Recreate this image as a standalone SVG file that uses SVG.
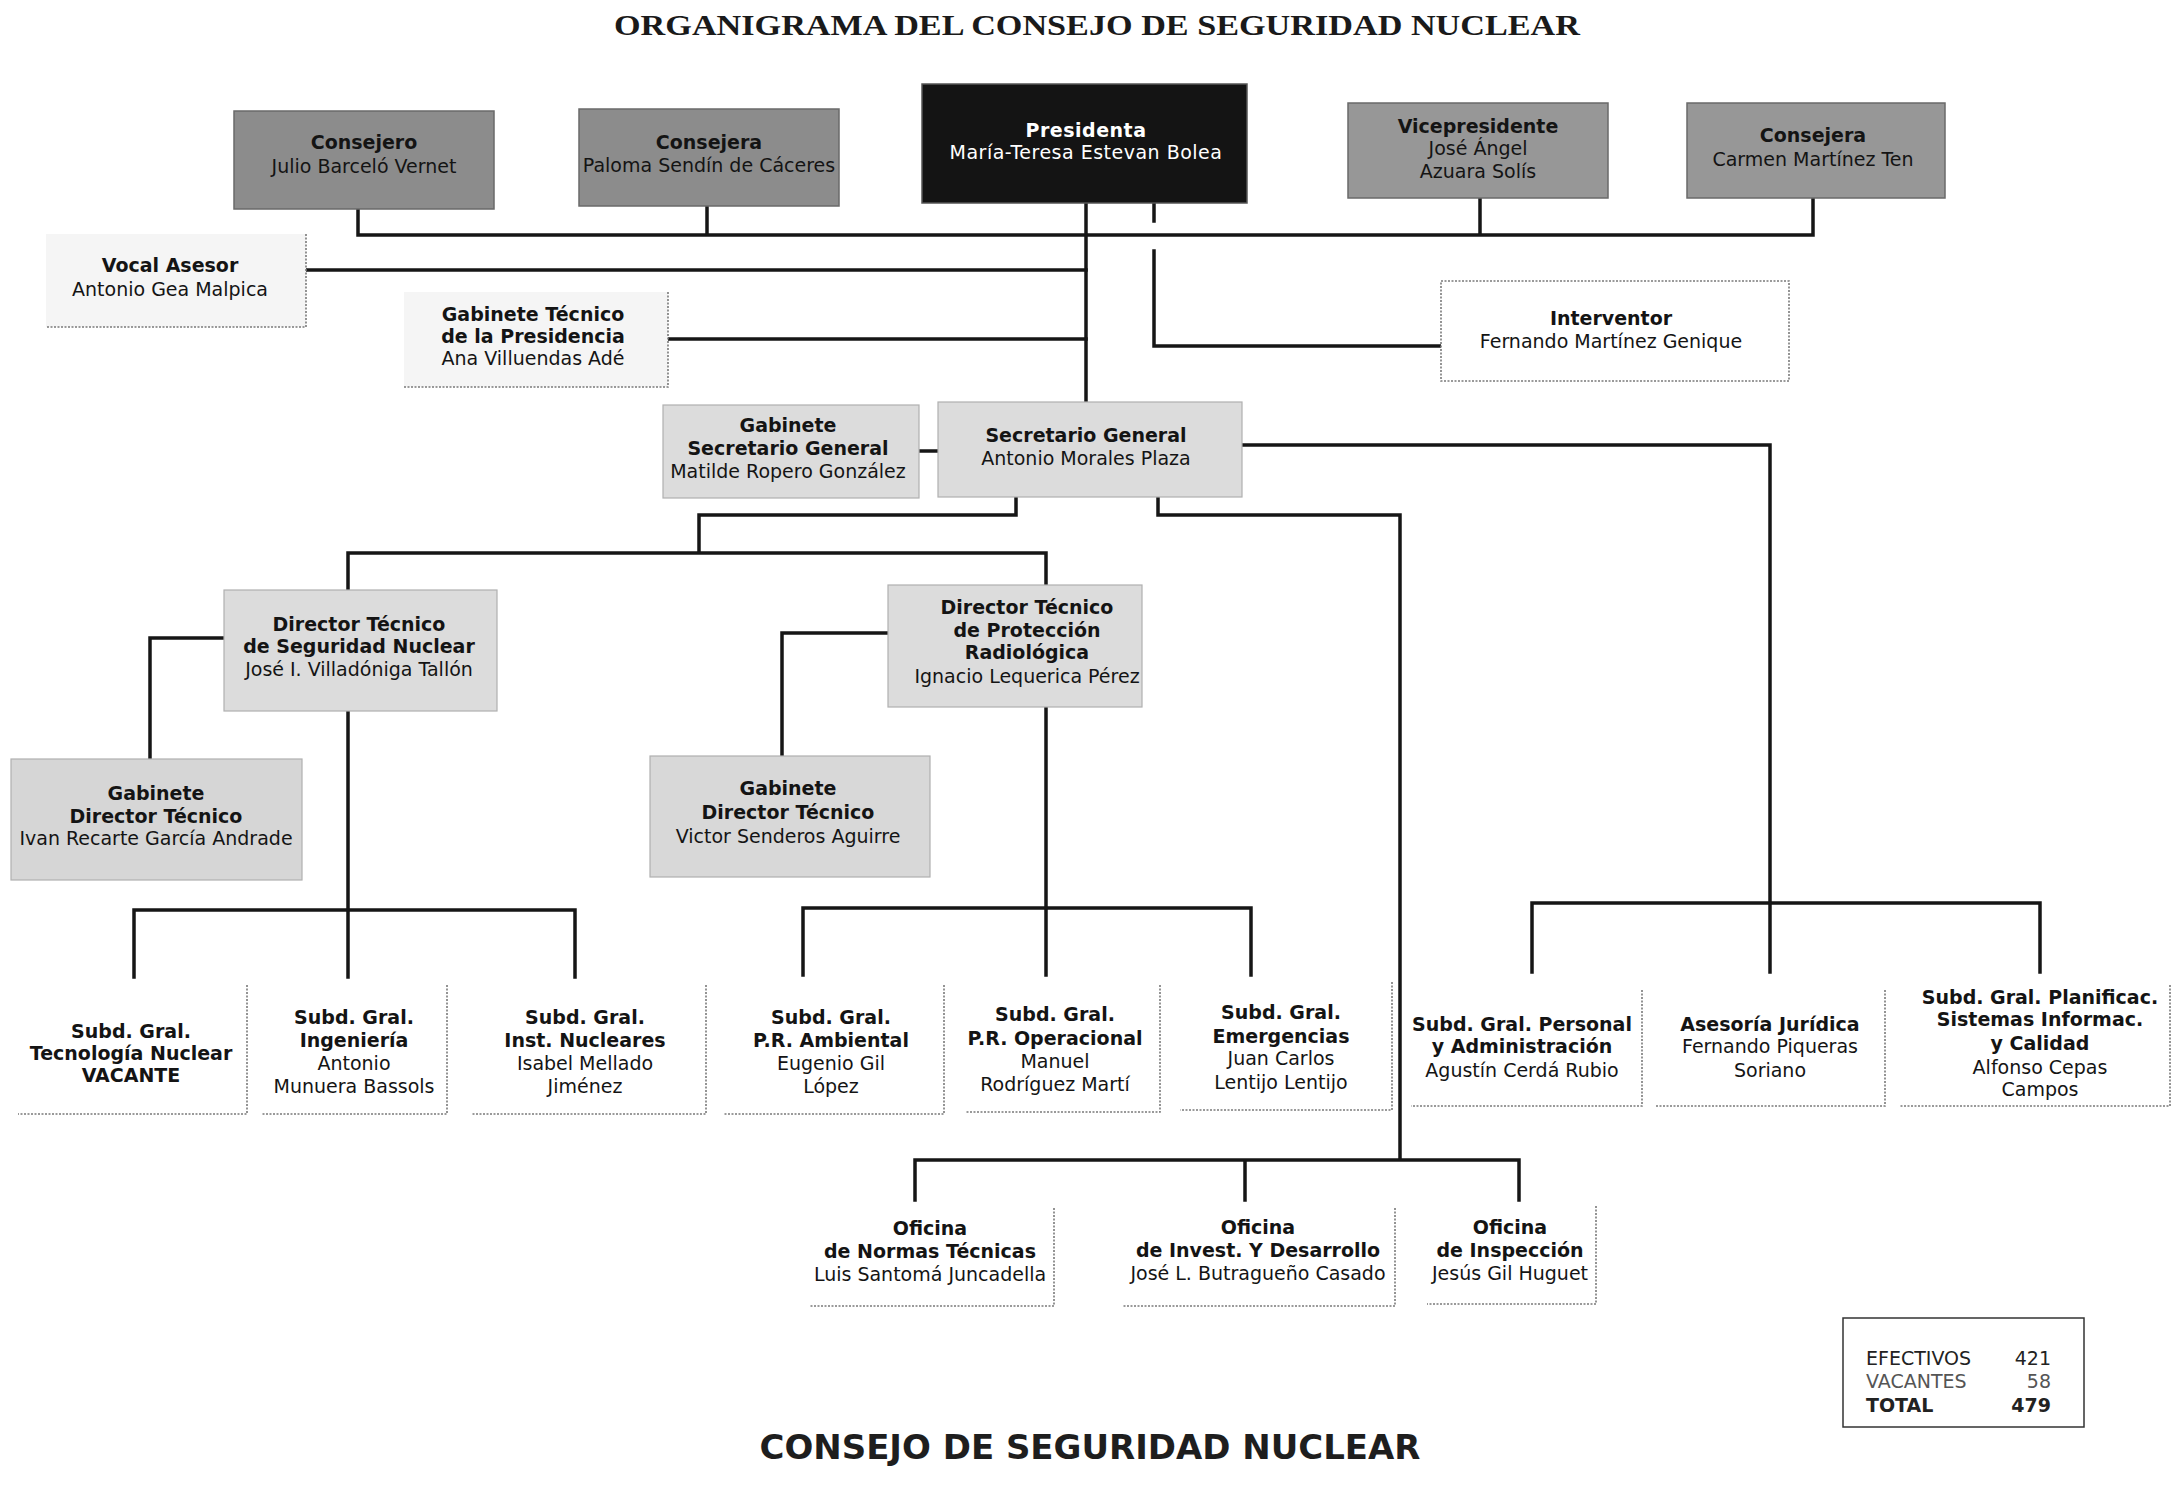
<svg xmlns="http://www.w3.org/2000/svg" width="2183" height="1493" viewBox="0 0 2183 1493">
<style>
.bg{fill:#ffffff}
.t{font-family:"DejaVu Sans",Verdana,sans-serif;font-size:19px;text-anchor:middle;fill:#141414}
.b{font-weight:bold}
.ln{stroke:#161616;stroke-width:3.5;fill:none;stroke-linecap:square;stroke-linejoin:miter}
.dark{fill:#8c8c8c;stroke:#6a6a6a;stroke-width:1.5}
.pres{fill:#141414;stroke:#555;stroke-width:1.5}
.light{fill:#dcdcdc;stroke:#b0b0b0;stroke-width:1.2}
.pale{fill:#f5f5f5}
.edge{stroke:#7a7a7a;stroke-width:1.6;stroke-dasharray:2 1.5;fill:none}
.title{font-family:"Liberation Serif","Times New Roman",serif;font-weight:bold;font-size:29px;text-anchor:middle;fill:#1a1a1a}
.foot{font-family:"DejaVu Sans",Verdana,sans-serif;font-weight:bold;font-size:33px;text-anchor:middle;fill:#1e1e1e}
.st{font-family:"DejaVu Sans",Verdana,sans-serif;font-size:19px;fill:#222}
</style>
<rect class="bg" x="0" y="0" width="2183" height="1493"/>
<text class="title" x="1097" y="35" textLength="966" lengthAdjust="spacingAndGlyphs">ORGANIGRAMA DEL CONSEJO DE SEGURIDAD NUCLEAR</text>

<g id="connectors">
<path class="ln" d="M358 209V235M707 206V235M1480 198V235M1813 198V235M358 235H1813"/>
<path class="ln" d="M1086 203V402"/>
<path class="ln" d="M1154 203V221M1154 251V346H1441"/>
<path class="ln" d="M306 270H1086M668 339H1086"/>
<path class="ln" d="M919 451H938"/>
<path class="ln" d="M1242 445H1770V972M1532 972V903H2040V972"/>
<path class="ln" d="M1016 497V515H699V553M348 590V553H1046V585"/>
<path class="ln" d="M224 638H150V759M888 633H782V756"/>
<path class="ln" d="M348 711V977M134 977V910H575V977"/>
<path class="ln" d="M1046 707V975M803 975V908H1251V975"/>
<path class="ln" d="M1158 497V515H1400V1160M915 1200V1160H1519V1200M1245 1160V1200"/>
</g>

<g id="consejero-barcelo">
<rect class="dark" x="234" y="111" width="260" height="98"/>
<text class="t b" x="364" y="149">Consejero</text>
<text class="t" x="364" y="173">Julio Barceló Vernet</text>
</g>
<g id="consejera-sendin">
<rect class="dark" x="579" y="109" width="260" height="97"/>
<text class="t b" x="709" y="149">Consejera</text>
<text class="t" x="709" y="172">Paloma Sendín de Cáceres</text>
</g>
<g id="presidenta">
<rect class="pres" x="922" y="84" width="325" height="119"/>
<text class="t b" x="1086" y="137" style="fill:#fff;letter-spacing:0.5px">Presidenta</text>
<text class="t" x="1086" y="159" style="fill:#fff;letter-spacing:0.5px">María-Teresa Estevan Bolea</text>
</g>
<g id="vicepresidente">
<rect class="dark" x="1348" y="103" width="260" height="95" style="fill:#979797"/>
<text class="t b" x="1478" y="133">Vicepresidente</text>
<text class="t" x="1478" y="155">José Ángel</text>
<text class="t" x="1478" y="178">Azuara Solís</text>
</g>
<g id="consejera-martinez">
<rect class="dark" x="1687" y="103" width="258" height="95" style="fill:#979797"/>
<text class="t b" x="1813" y="142">Consejera</text>
<text class="t" x="1813" y="166">Carmen Martínez Ten</text>
</g>

<g id="vocal-asesor">
<rect class="pale" x="46" y="234" width="260" height="93"/>
<path class="edge" d="M306 234V327H46"/>
<text class="t b" x="170" y="272">Vocal Asesor</text>
<text class="t" x="170" y="296">Antonio Gea Malpica</text>
</g>
<g id="gabinete-presidencia">
<rect class="pale" x="404" y="292" width="264" height="95"/>
<path class="edge" d="M668 292V387H404"/>
<text class="t b" x="533" y="321">Gabinete Técnico</text>
<text class="t b" x="533" y="343">de la Presidencia</text>
<text class="t" x="533" y="365">Ana Villuendas Adé</text>
</g>
<g id="interventor">
<rect x="1441" y="281" width="348" height="100" fill="#fff"/>
<rect class="edge" x="1441" y="281" width="348" height="100"/>
<text class="t b" x="1611" y="325">Interventor</text>
<text class="t" x="1611" y="348">Fernando Martínez Genique</text>
</g>

<g id="gabinete-secretario">
<rect class="light" x="663" y="405" width="256" height="93"/>
<text class="t b" x="788" y="432">Gabinete</text>
<text class="t b" x="788" y="455">Secretario General</text>
<text class="t" x="788" y="478">Matilde Ropero González</text>
</g>
<g id="secretario-general">
<rect class="light" x="938" y="402" width="304" height="95"/>
<text class="t b" x="1086" y="442">Secretario General</text>
<text class="t" x="1086" y="465">Antonio Morales Plaza</text>
</g>

<g id="dt-seguridad">
<rect class="light" x="224" y="590" width="273" height="121"/>
<text class="t b" x="359" y="631">Director Técnico</text>
<text class="t b" x="359" y="653">de Seguridad Nuclear</text>
<text class="t" x="359" y="676">José I. Villadóniga Tallón</text>
</g>
<g id="gabinete-dt-seguridad">
<rect class="light" x="11" y="759" width="291" height="121" style="fill:#d6d6d6"/>
<text class="t b" x="156" y="800">Gabinete</text>
<text class="t b" x="156" y="823">Director Técnico</text>
<text class="t" x="156" y="845">Ivan Recarte García Andrade</text>
</g>
<g id="dt-proteccion">
<rect class="light" x="888" y="585" width="254" height="122"/>
<text class="t b" x="1027" y="614">Director Técnico</text>
<text class="t b" x="1027" y="637">de Protección</text>
<text class="t b" x="1027" y="659">Radiológica</text>
<text class="t" x="1027" y="683">Ignacio Lequerica Pérez</text>
</g>
<g id="gabinete-dt-proteccion">
<rect class="light" x="650" y="756" width="280" height="121" style="fill:#d8d8d8"/>
<text class="t b" x="788" y="795">Gabinete</text>
<text class="t b" x="788" y="819">Director Técnico</text>
<text class="t" x="788" y="843">Victor Senderos Aguirre</text>
</g>

<g id="sg-tecnologia">
<path class="edge" d="M247 985V1114H18"/>
<text class="t b" x="131" y="1038">Subd. Gral.</text>
<text class="t b" x="131" y="1060">Tecnología Nuclear</text>
<text class="t b" x="131" y="1082">VACANTE</text>
</g>
<g id="sg-ingenieria">
<path class="edge" d="M447 985V1114H262"/>
<text class="t b" x="354" y="1024">Subd. Gral.</text>
<text class="t b" x="354" y="1047">Ingeniería</text>
<text class="t" x="354" y="1070">Antonio</text>
<text class="t" x="354" y="1093">Munuera Bassols</text>
</g>
<g id="sg-instalaciones">
<path class="edge" d="M706 985V1114H471"/>
<text class="t b" x="585" y="1024">Subd. Gral.</text>
<text class="t b" x="585" y="1047">Inst. Nucleares</text>
<text class="t" x="585" y="1070">Isabel Mellado</text>
<text class="t" x="585" y="1093">Jiménez</text>
</g>
<g id="sg-ambiental">
<path class="edge" d="M944 985V1114H724"/>
<text class="t b" x="831" y="1024">Subd. Gral.</text>
<text class="t b" x="831" y="1047">P.R. Ambiental</text>
<text class="t" x="831" y="1070">Eugenio Gil</text>
<text class="t" x="831" y="1093">López</text>
</g>
<g id="sg-operacional">
<path class="edge" d="M1160 985V1112H965"/>
<text class="t b" x="1055" y="1021">Subd. Gral.</text>
<text class="t b" x="1055" y="1045">P.R. Operacional</text>
<text class="t" x="1055" y="1068">Manuel</text>
<text class="t" x="1055" y="1091">Rodríguez Martí</text>
</g>
<g id="sg-emergencias">
<path class="edge" d="M1392 982V1110H1180"/>
<text class="t b" x="1281" y="1019">Subd. Gral.</text>
<text class="t b" x="1281" y="1043">Emergencias</text>
<text class="t" x="1281" y="1065">Juan Carlos</text>
<text class="t" x="1281" y="1089">Lentijo Lentijo</text>
</g>
<g id="sg-personal">
<path class="edge" d="M1642 990V1106H1411"/>
<text class="t b" x="1522" y="1031">Subd. Gral. Personal</text>
<text class="t b" x="1522" y="1053">y Administración</text>
<text class="t" x="1522" y="1077">Agustín Cerdá Rubio</text>
</g>
<g id="asesoria-juridica">
<path class="edge" d="M1885 990V1106H1655"/>
<text class="t b" x="1770" y="1031">Asesoría Jurídica</text>
<text class="t" x="1770" y="1053">Fernando Piqueras</text>
<text class="t" x="1770" y="1077">Soriano</text>
</g>
<g id="sg-planificacion">
<path class="edge" d="M2170 985V1106H1900"/>
<text class="t b" x="2040" y="1004">Subd. Gral. Planificac.</text>
<text class="t b" x="2040" y="1026">Sistemas Informac.</text>
<text class="t b" x="2040" y="1050">y Calidad</text>
<text class="t" x="2040" y="1074">Alfonso Cepas</text>
<text class="t" x="2040" y="1096">Campos</text>
</g>

<g id="oficina-normas">
<path class="edge" d="M1054 1208V1306H810"/>
<text class="t b" x="930" y="1235">Oficina</text>
<text class="t b" x="930" y="1258">de Normas Técnicas</text>
<text class="t" x="930" y="1281">Luis Santomá Juncadella</text>
</g>
<g id="oficina-investigacion">
<path class="edge" d="M1395 1208V1306H1122"/>
<text class="t b" x="1258" y="1234">Oficina</text>
<text class="t b" x="1258" y="1257">de Invest. Y Desarrollo</text>
<text class="t" x="1258" y="1280">José L. Butragueño Casado</text>
</g>
<g id="oficina-inspeccion">
<path class="edge" d="M1596 1206V1304H1427"/>
<text class="t b" x="1510" y="1234">Oficina</text>
<text class="t b" x="1510" y="1257">de Inspección</text>
<text class="t" x="1510" y="1280">Jesús Gil Huguet</text>
</g>

<g id="efectivos">
<rect x="1843" y="1318" width="241" height="109" fill="#fff" stroke="#333" stroke-width="1.5"/>
<text class="st" x="1866" y="1365">EFECTIVOS</text>
<text class="st" x="2051" y="1365" text-anchor="end">421</text>
<text class="st" x="1866" y="1388" style="fill:#555">VACANTES</text>
<text class="st" x="2051" y="1388" text-anchor="end" style="fill:#555">58</text>
<text class="st" x="1866" y="1412" font-weight="bold">TOTAL</text>
<text class="st" x="2051" y="1412" text-anchor="end" font-weight="bold">479</text>
</g>

<text class="foot" x="1090" y="1459" textLength="661" lengthAdjust="spacingAndGlyphs">CONSEJO DE SEGURIDAD NUCLEAR</text>
</svg>
